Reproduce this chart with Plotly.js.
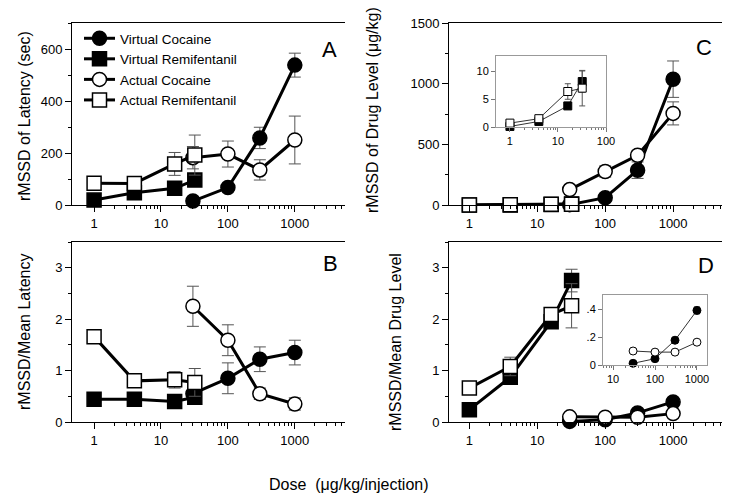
<!DOCTYPE html>
<html>
<head>
<meta charset="utf-8">
<script src="https://cdn.plot.ly/plotly-3.0.1.min.js"></script>
<style>
  html, body { margin: 0; padding: 0; background: #fff; }
  #chart { width: 729px; height: 501px; }
</style>
</head>
<body>
<div id="chart"></div>
<script>
// doses (µg/kg/injection)
const doseCoc = [30, 100, 300, 1000];
const doseRemi = [1, 4, 16, 32];

// A: rMSSD of latency (sec)
const latVC = [15, 67, 258, 538], latVCErr = [null, null, 41, 46];
const latVR = [19, 47, 64, 96], latVRErr = [null, null, null, null];
const latAC = [182, 196, 135, 250], latACErr = [43, 50, 39, 92];
const latAR = [84, 83, 158, 192], latARErr = [null, null, 44, 77];

// B: rMSSD / mean latency
const cvVC = [0.55, 0.85, 1.22, 1.35], cvVCErr = [null, 0.30, 0.24, 0.24];
const cvVR = [0.44, 0.44, 0.40, 0.48], cvVRErr = [null, null, null, null];
const cvAC = [2.25, 1.59, 0.55, 0.35], cvACErr = [0.39, 0.30, 0.11, 0.12];
const cvAR = [1.66, 0.80, 0.82, 0.77], cvARErr = [null, null, 0.16, 0.27];

// C: rMSSD of drug level (µg/kg)
const drugVC = [3, 60, 287, 1037], drugVCErr = [null, null, 68, 150];
const drugVR = [0.1, 1.0, 3.8, 8.2], drugVRErr = [null, null, null, 1.9];
const drugAC = [127, 276, 410, 755], drugACErr = [null, 46, 40, 95];
const drugAR = [0.7, 1.5, 6.4, 7.0], drugARErr = [null, null, 1.4, 3.2];

// D: rMSSD / mean drug level
const dcvVC = [0.012, 0.045, 0.177, 0.39], dcvVCErr = [null, null, 0.02, 0.025];
const dcvVR = [0.24, 0.87, 1.95, 2.75], dcvVRErr = [null, null, null, 0.22];
const dcvAC = [0.10, 0.092, 0.092, 0.163], dcvACErr = [0.02, null, null, null];
const dcvAR = [0.66, 1.08, 2.09, 2.26], dcvARErr = [null, 0.18, null, 0.43];

const names = ['Virtual Cocaine', 'Virtual Remifentanil', 'Actual Cocaine', 'Actual Remifentanil'];
const FONT = 'Liberation Sans, Arial, Helvetica, sans-serif';

function series(name, xs, ys, err, symbol, filled, ax, opts = {}) {
  const small = !!opts.small;
  return {
    type: 'scatter', mode: 'lines+markers',
    x: xs, y: ys, name,
    xaxis: 'x' + ax, yaxis: 'y' + ax,
    showlegend: !!opts.legend,
    legendrank: opts.rank,
    line: { color: small ? '#333' : '#000', width: small ? 1 : 3 },
    marker: {
      symbol, size: small ? 8 : 14,
      color: filled ? '#000' : '#fff',
      line: { color: '#000', width: small ? 1 : 1.5 },
    },
    error_y: {
      type: 'data', array: err, visible: true,
      color: '#555', thickness: 1, width: small ? 3 : 6,
    },
    cliponaxis: false,
  };
}

const noErr = [null, null, null, null];
const traces = [
  series(names[0], doseCoc, latVC, latVCErr, 'circle', true, '', { legend: true, rank: 1 }),
  series(names[1], doseRemi, latVR, latVRErr, 'square', true, '', { legend: true, rank: 2 }),
  series(names[2], doseCoc, latAC, latACErr, 'circle', false, '', { legend: true, rank: 3 }),
  series(names[3], doseRemi, latAR, latARErr, 'square', false, '', { legend: true, rank: 4 }),

  series(names[0], doseCoc, cvVC, cvVCErr, 'circle', true, '2'),
  series(names[1], doseRemi, cvVR, cvVRErr, 'square', true, '2'),
  series(names[2], doseCoc, cvAC, cvACErr, 'circle', false, '2'),
  series(names[3], doseRemi, cvAR, cvARErr, 'square', false, '2'),

  series(names[0], doseCoc, drugVC, drugVCErr, 'circle', true, '3'),
  series(names[1], doseRemi, drugVR, noErr, 'square', true, '3'),
  series(names[2], doseCoc, drugAC, drugACErr, 'circle', false, '3'),
  series(names[3], doseRemi, drugAR, noErr, 'square', false, '3'),

  series(names[0], doseCoc, dcvVC, noErr, 'circle', true, '4'),
  series(names[1], doseRemi, dcvVR, dcvVRErr, 'square', true, '4'),
  series(names[2], doseCoc, dcvAC, noErr, 'circle', false, '4'),
  series(names[3], doseRemi, dcvAR, dcvARErr, 'square', false, '4'),

  // insets
  series(names[1], doseRemi, drugVR, drugVRErr, 'square', true, '5', { small: true }),
  series(names[3], doseRemi, drugAR, drugARErr, 'square', false, '5', { small: true }),
  series(names[0], doseCoc, dcvVC, dcvVCErr, 'circle', true, '6', { small: true }),
  series(names[2], doseCoc, dcvAC, dcvACErr, 'circle', false, '6', { small: true }),
];

// log minor ticks 2..9 per decade
const minorLog = [];
[1, 10, 100, 1000].forEach(d => { for (let k = 2; k <= 9; k++) minorLog.push(k * d); });

const px = v => v / 729;
const py = v => 1 - v / 501;

function mainX(l, r, range) {
  return {
    type: 'log', domain: [px(l), px(r)], range,
    tickvals: [1, 10, 100, 1000], ticktext: ['1', '10', '100', '1000'],
    ticks: 'outside', ticklen: 6, tickcolor: '#000',
    showline: true, linecolor: '#000', linewidth: 1, mirror: true,
    showgrid: false, zeroline: false,
    minor: { tickvals: minorLog, ticks: 'outside', ticklen: 3, tickcolor: '#000', showgrid: false },
    tickfont: { size: 13, color: '#000' },
  };
}
function mainY(t, b, range, dtick, minor) {
  return {
    domain: [py(b), py(t)], range,
    tick0: 0, dtick, ticks: 'outside', ticklen: 6, tickcolor: '#000',
    showline: true, linecolor: '#000', linewidth: 1,
    showgrid: false, zeroline: false,
    minor: { dtick: minor, ticks: 'outside', ticklen: 3, tickcolor: '#000', showgrid: false },
    tickfont: { size: 13, color: '#000' },
  };
}
function insetAxis(domain, extra) {
  return Object.assign({
    domain, ticks: 'outside', ticklen: 4, tickcolor: '#777',
    showline: true, linecolor: '#999', linewidth: 1, mirror: true,
    showgrid: false, zeroline: false,
    tickfont: { size: 11, color: '#000' },
  }, extra);
}

function label(text, x, y, size, angle) {
  return {
    text, x: px(x), y: py(y), xref: 'paper', yref: 'paper',
    xanchor: 'center', yanchor: 'middle', showarrow: false,
    textangle: angle || 0, font: { size },
  };
}

const layout = {
  width: 729, height: 501,
  margin: { l: 0, r: 0, t: 0, b: 0 },
  paper_bgcolor: '#fff', plot_bgcolor: 'rgba(0,0,0,0)',
  font: { family: FONT, color: '#000' },
  showlegend: true,
  legend: {
    x: px(79), y: py(23), xanchor: 'left', yanchor: 'top',
    bgcolor: 'rgba(0,0,0,0)', font: { size: 13.5 },
    tracegroupgap: 0, itemwidth: 31,
  },
  xaxis: Object.assign(mainX(72, 345, [-0.33, 3.75]), { anchor: 'y' }),
  yaxis: Object.assign(mainY(23, 205, [0, 700], 200, 100), { anchor: 'x', tickvals: [0, 200, 400, 600] }),
  xaxis2: Object.assign(mainX(72, 345, [-0.33, 3.75]), { anchor: 'y2' }),
  yaxis2: Object.assign(mainY(242, 422, [0, 3.5], 1, 0.5), { anchor: 'x2', tickvals: [0, 1, 2, 3] }),
  xaxis3: Object.assign(mainX(449, 722, [-0.3, 3.72]), { anchor: 'y3' }),
  yaxis3: Object.assign(mainY(23, 205, [0, 1500], 500, 250), { anchor: 'x3', tickvals: [0, 500, 1000, 1500] }),
  xaxis4: Object.assign(mainX(449, 722, [-0.3, 3.72]), { anchor: 'y4' }),
  yaxis4: Object.assign(mainY(242, 422, [0, 3.5], 1, 0.5), { anchor: 'x4', tickvals: [0, 1, 2, 3] }),
  xaxis5: insetAxis([px(496), px(606)], {
    type: 'log', range: [-0.29, 2.0], anchor: 'y5',
    tickvals: [1, 10, 100], ticktext: ['1', '10', '100'],
    minor: { tickvals: minorLog, ticks: 'outside', ticklen: 2, tickcolor: '#777' },
  }),
  yaxis5: insetAxis([py(127), py(56)], { range: [0, 12.8], anchor: 'x5', tickvals: [0, 5, 10] }),
  xaxis6: insetAxis([px(603), px(707)], {
    type: 'log', range: [0.76, 3.24], anchor: 'y6',
    tickvals: [10, 100, 1000], ticktext: ['10', '100', '1000'],
    minor: { tickvals: minorLog, ticks: 'outside', ticklen: 2, tickcolor: '#777' },
  }),
  yaxis6: insetAxis([py(365), py(295)], {
    range: [0, 0.5], anchor: 'x6',
    tickvals: [0, 0.2, 0.4], ticktext: ['0', '.2', '.4'],
  }),
  annotations: [
    label('A', 329, 49, 22),
    label('B', 330, 263, 22),
    label('C', 704, 48, 22),
    label('D', 706, 265, 22),
    label('rMSSD of Latency (sec)', 24, 116, 16, -90),
    label('rMSSD/Mean Latency', 24, 332, 16, -90),
    label('rMSSD of Drug Level (μg/kg)', 372, 110, 16, -90),
    label('rMSSD/Mean Drug Level', 395, 342, 16, -90),
    label('Dose  (μg/kg/injection)', 349, 484, 16),
  ],
};

Plotly.newPlot('chart', traces, layout, { displayModeBar: false, staticPlot: true });
</script>
</body>
</html>
